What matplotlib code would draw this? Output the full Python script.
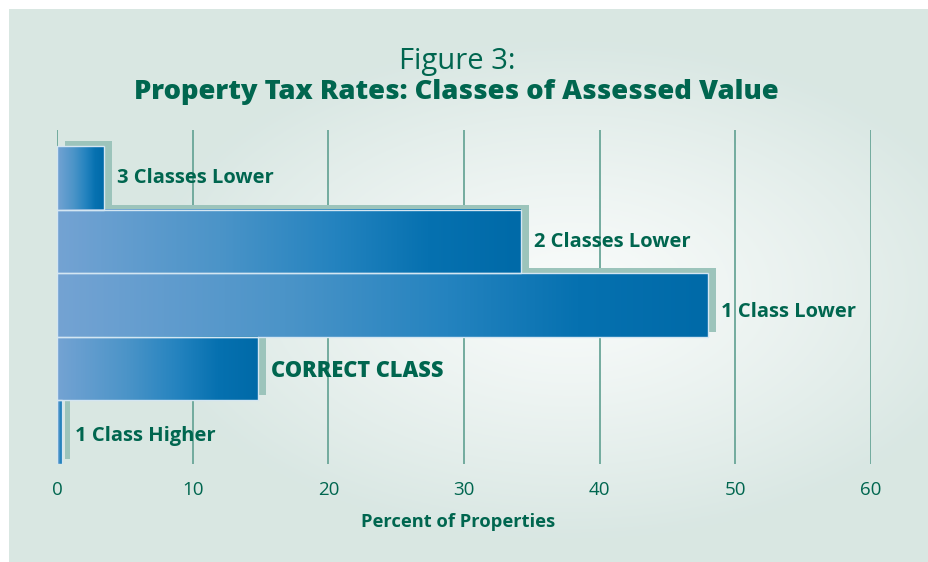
import numpy as np
import matplotlib
matplotlib.use("Agg")
import matplotlib.pyplot as plt
from matplotlib.colors import LinearSegmentedColormap
import matplotlib.transforms as mtransforms

# ---- data ----
categories = ["3 Classes Lower", "2 Classes Lower", "1 Class Lower", "CORRECT CLASS", "1 Class Higher"]
values = [3.5, 34.2, 48.0, 14.8, 0.4]
xticks = [0, 10, 20, 30, 40, 50, 60]
title_line1 = "Figure 3:"
title_line2 = "Property Tax Rates: Classes of Assessed Value"
xlabel = "Percent of Properties"

# style: small vertical nudges of the bar labels (pixels, positive = down)
label_nudge = [0, 1, 7, 2, 4]

GREEN = "#00664f"
GRID = "#6aa698"
SHADOW = "#9cc4bb"
FONT = ["Open Sans", "DejaVu Sans"]

W, H = 929, 562
fig = plt.figure(figsize=(W / 100, H / 100), dpi=100)
fig.patch.set_facecolor("white")

# background panel with radial gradient
bg = fig.add_axes([9 / W, 0, 1 - 9 / W, 1 - 9 / H])
bg.set_axis_off()
ny, nx = 300, 500
yy, xx = np.mgrid[0:ny, 0:nx]
px = 9 + xx / (nx - 1) * (W - 9)
py = 9 + yy / (ny - 1) * (H - 9)
r = np.sqrt(((px - 570) / 430) ** 2 + ((py - 290) / 250) ** 2)
t = np.clip(r, 0, 1) ** 1.2
c0 = np.array([0.975, 0.985, 0.982])
c1 = np.array([0.851, 0.906, 0.890])
img = c0[None, None, :] * (1 - t[..., None]) + c1[None, None, :] * t[..., None]
bg.imshow(img, extent=[0, 1, 0, 1], aspect="auto", origin="upper")
bg.set_xlim(0, 1)
bg.set_ylim(0, 1)

# main axes
x0, x1 = 57, 871
ytop, ybot = 130, 464
ax = fig.add_axes([x0 / W, (H - ybot) / H, (x1 - x0) / W, (ybot - ytop) / H])
ax.patch.set_alpha(0)
for s in ax.spines.values():
    s.set_visible(False)

for xv in xticks:
    ax.axvline(xv, color=GRID, lw=1.3, zorder=1)

cmap = LinearSegmentedColormap.from_list(
    "bar", [(0.0, "#74a3d3"), (0.35, "#4b94c8"), (0.6, "#2483bf"), (0.8, "#0671b0"), (1.0, "#006aa8")]
)
grad = np.linspace(0, 1, 256)[None, :]

shadow_tr = mtransforms.offset_copy(ax.transData, fig=fig, x=8, y=5, units="dots")
for i, v in enumerate(values):
    ax.add_patch(plt.Rectangle((0, i - 0.5), v, 1.0, facecolor=SHADOW, edgecolor="none",
                               transform=shadow_tr, zorder=2))
for i, v in enumerate(values):
    ax.imshow(grad, cmap=cmap, extent=[0, v, i + 0.5, i - 0.5], aspect="auto", zorder=3,
              interpolation="bilinear")
    ax.add_patch(plt.Rectangle((0, i - 0.5), v, 1.0, facecolor="none", edgecolor="#d4e6f2",
                               lw=1.0, zorder=4))

ax.set_xlim(0, 60)
ax.set_ylim(4.5, -0.75)

for i, (c, v) in enumerate(zip(categories, values)):
    size = 15.7 if c == "CORRECT CLASS" else 14.5
    weight = 800 if c == "CORRECT CLASS" else "bold"
    ax.annotate(c, xy=(v, i), xytext=(13, -label_nudge[i]), textcoords="offset pixels", ha="left",
                va="center", color=GREEN, fontsize=size, fontweight=weight, family=FONT, zorder=5)

ax.set_yticks([])
ax.set_xticks(xticks)
ax.set_xticklabels([str(x) for x in xticks], color=GREEN, fontsize=13.5, family=FONT)
ax.tick_params(axis="x", length=0, pad=12)
ax.set_xlabel(xlabel, color=GREEN, fontsize=13.2, fontweight="bold", family=FONT)
ax.xaxis.set_label_coords((458 - x0) / (x1 - x0), -(522 - ybot) / (ybot - ytop), transform=ax.transAxes)
ax.xaxis.label.set_va("center")

fig.text(457 / W, 1 - 62 / H, title_line1, ha="center", va="center", color=GREEN,
         fontsize=21, family=FONT)
fig.text(456 / W, 1 - 92 / H, title_line2, ha="center", va="center", color=GREEN,
         fontsize=19.75, fontweight=800, family=FONT)

fig.savefig("out.png", dpi=100, facecolor=fig.get_facecolor())
